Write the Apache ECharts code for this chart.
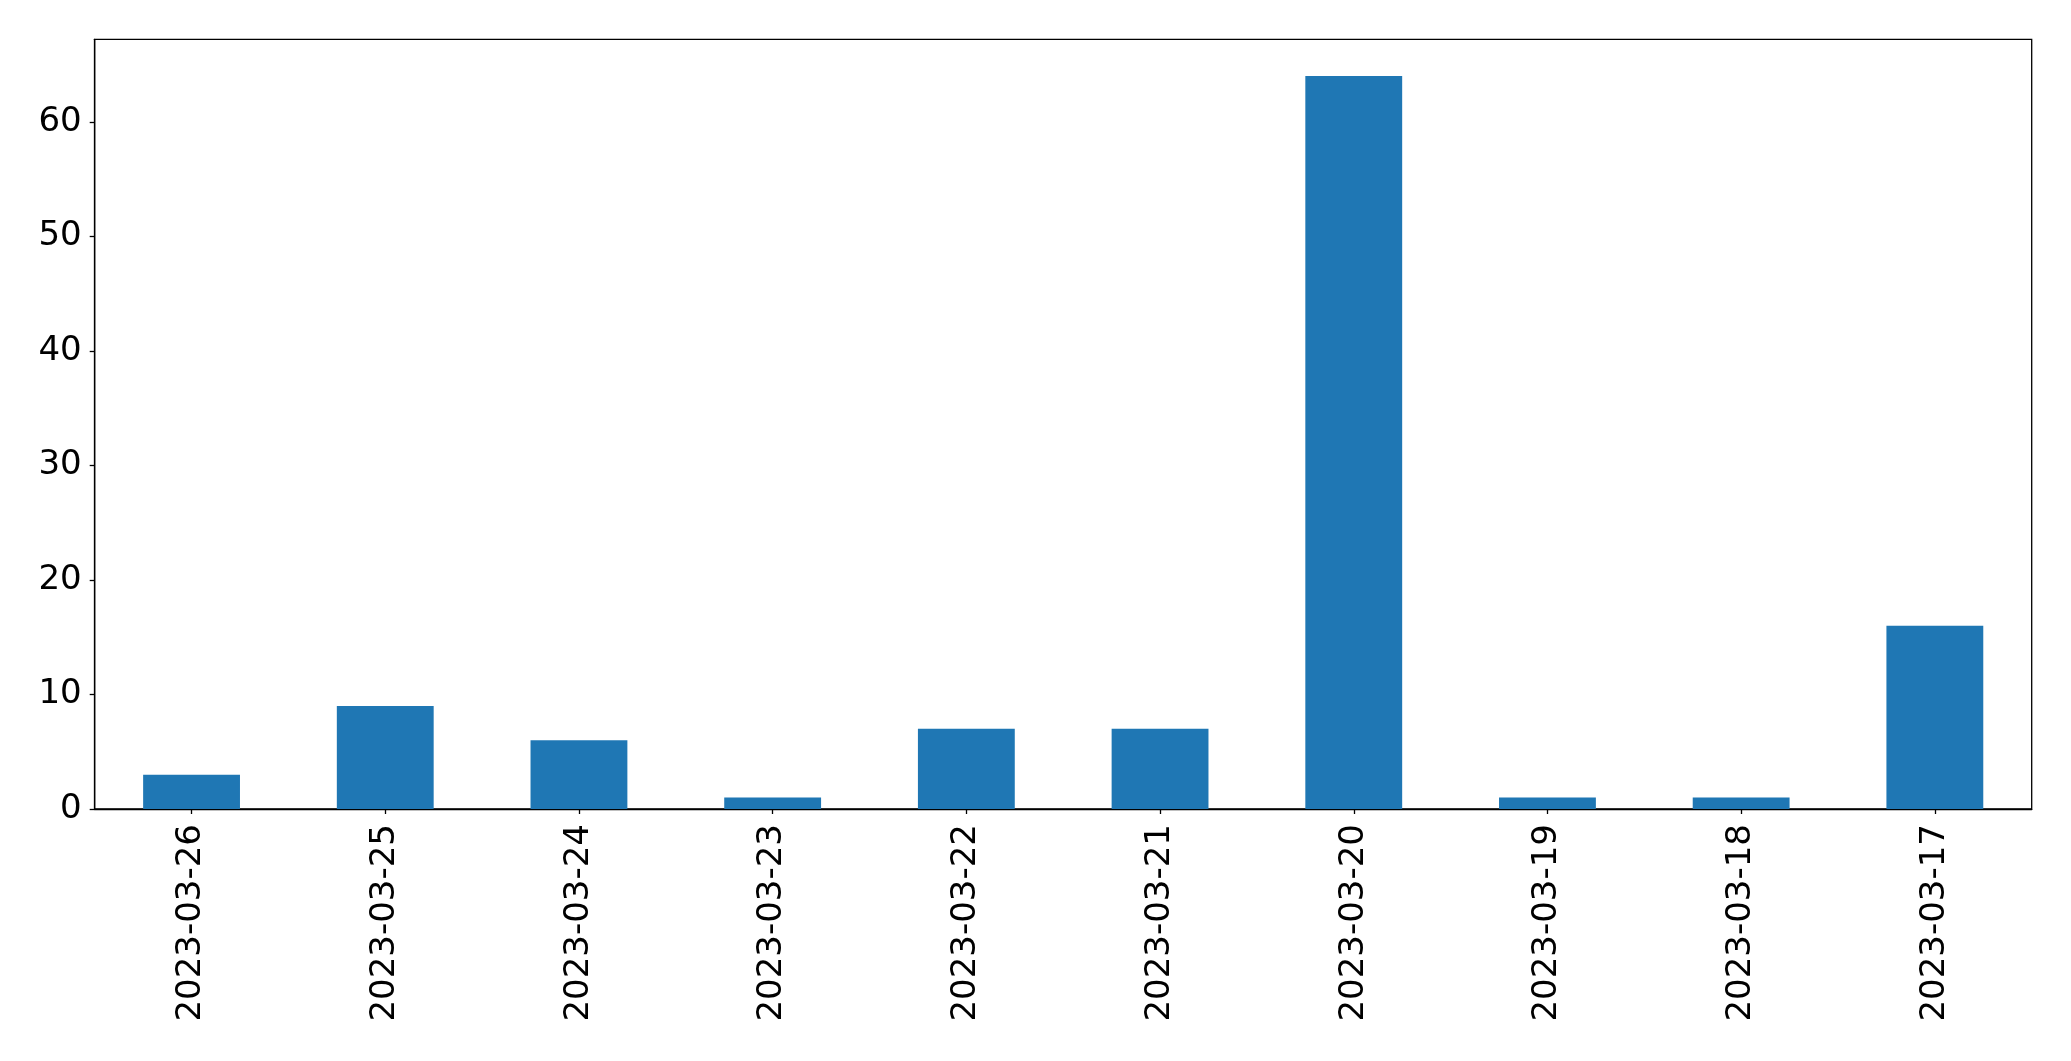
<!DOCTYPE html>
<html>
<head>
<meta charset="utf-8">
<script src="https://cdn.jsdelivr.net/npm/echarts@6/dist/echarts.min.js"></script>
<style>html,body{margin:0;padding:0;background:#fff}#c{width:2071px;height:1061px}</style>
</head>
<body>
<div id="c"></div>
<script>
const categories = ['2023-03-26','2023-03-25','2023-03-24','2023-03-23','2023-03-22','2023-03-21','2023-03-20','2023-03-19','2023-03-18','2023-03-17'];
const values = [3, 9, 6, 1, 7, 7, 64, 1, 1, 16];
const yTicks = [0, 10, 20, 30, 40, 50, 60];

const chart = echarts.init(document.getElementById('c'), null, {renderer: 'canvas'});
const font = 'DejaVu Sans';
chart.setOption({
  animation: false,
  backgroundColor: '#ffffff',
  grid: {left: 94.7, right: 39.3, top: 39.3, bottom: 252, show: true, borderColor: '#000', borderWidth: 1.3, backgroundColor: 'transparent'},
  xAxis: {
    type: 'category',
    data: categories,
    boundaryGap: true,
    axisLine: {show: true, lineStyle: {color: '#000', width: 1.3}},
    axisTick: {show: true, alignWithLabel: true, length: 5, lineStyle: {color: '#000', width: 1.3}},
    axisLabel: {rotate: 90, margin: 15, color: '#000', fontSize: 34, fontFamily: font, interval: 0},
    splitLine: {show: false}
  },
  yAxis: {
    type: 'value',
    min: 0,
    max: 67.2,
    interval: 10,
    axisLine: {show: true, lineStyle: {color: '#000', width: 1.3}},
    axisTick: {show: true, length: 5, lineStyle: {color: '#000', width: 1.3}, customValues: yTicks},
    axisLabel: {margin: 13, color: '#000', fontSize: 34, fontFamily: font, customValues: yTicks},
    splitLine: {show: false}
  },
  series: [{
    type: 'bar',
    data: values,
    barWidth: '50%',
    itemStyle: {color: '#1f77b4'}
  }]
});
</script>
</body>
</html>
